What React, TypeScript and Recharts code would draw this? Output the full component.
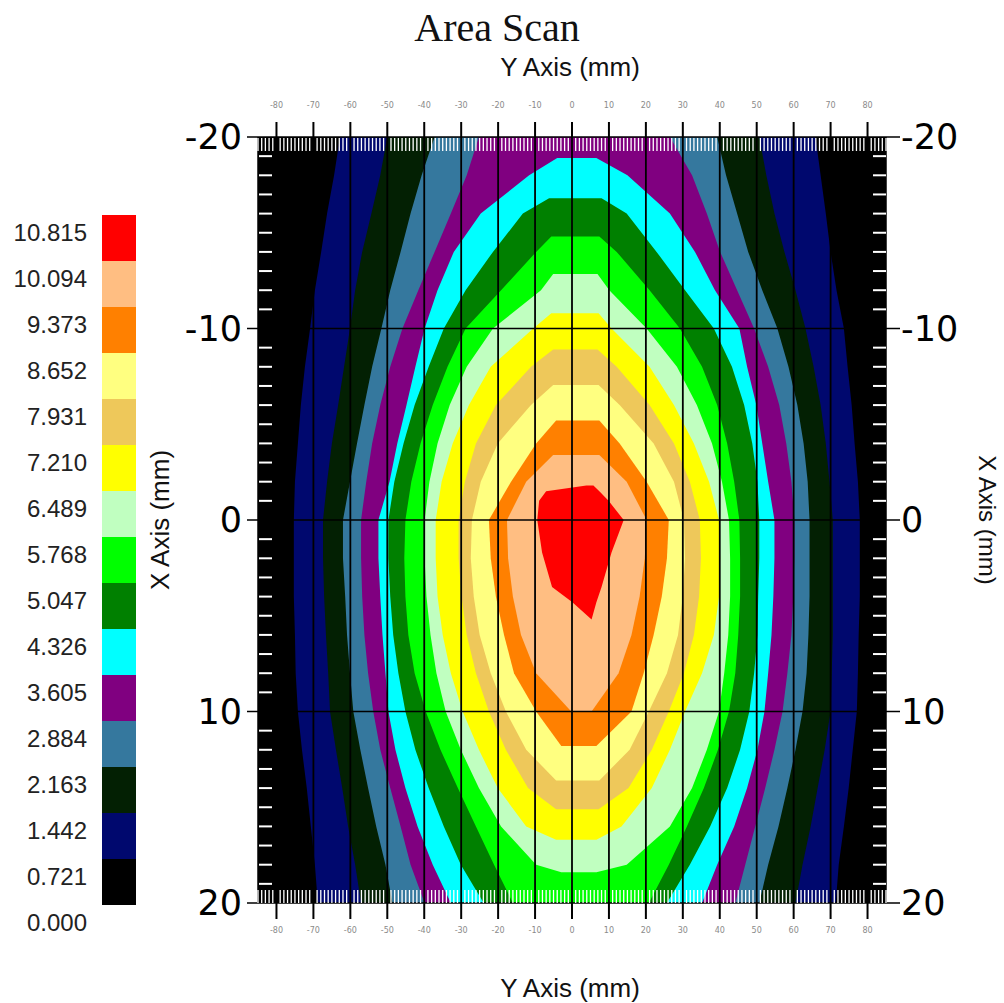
import React from "react";
import { ComposedChart, Area, XAxis, YAxis, BarChart, Bar } from "recharts";

// colour scale of the legend (band lower bounds + top)
const levels = [0.0, 0.721, 1.442, 2.163, 2.884, 3.605, 4.326, 5.047, 5.768, 6.489, 7.21, 7.931, 8.652, 9.373, 10.094, 10.815];
const bandColors = [
  "#000000", "#00086e", "#032003", "#35789e", "#800080", "#00ffff", "#008000", "#00ff00",
  "#c0ffc0", "#ffff00", "#eec85a", "#ffff80", "#ff8000", "#ffbe82", "#ff0000",
];

// axis ticks (mm)
const yMajor = [-80, -70, -60, -50, -40, -30, -20, -10, 0, 10, 20, 30, 40, 50, 60, 70, 80];
const xMajor = [-20, -10, 0, 10, 20];
const xGrid = [-10, 0, 10];
const yMinor: number[] = [];
for (let v = -85; v <= 85; v++) if (v % 10 !== 0) yMinor.push(v);
const xMinor: number[] = [];
for (let v = -19; v <= 19; v++) if (v % 10 !== 0) xMinor.push(v);

// contour regions: [X mm (row), left Y mm, right Y mm] where value > level
const band00 = [[-20, -85, 85], [20, -85, 85]];
const band01 = [
  [-20, -62.8, 65.9], [-18, -64.4, 67.3], [-16, -66.3, 68.7], [-14, -67.9, 70.0], [-12, -69.6, 71.6],
  [-10, -70.9, 73.6], [-8, -72.3, 74.6], [-6, -73.4, 75.7], [-4, -74.2, 76.5], [-2, -75.0, 77.4],
  [0, -75.3, 77.9], [2, -75.3, 77.9], [4, -75.3, 77.9], [6, -75.0, 77.6], [8, -74.8, 77.4],
  [10, -74.2, 77.1], [12, -73.1, 76.0], [14, -71.8, 74.9], [16, -70.7, 73.6], [18, -69.6, 72.2], [20, -68.8, 71.4],
];
const band02 = [
  [-20, -50.0, 50.7], [-18, -51.9, 52.6], [-16, -54.3, 54.8], [-14, -56.8, 57.5], [-12, -58.7, 60.5],
  [-10, -60.1, 63.2], [-8, -61.7, 65.4], [-6, -63.3, 67.3], [-4, -65.0, 68.7], [-2, -66.3, 69.7],
  [0, -67.4, 70.6], [2, -67.4, 70.6], [4, -67.1, 70.6], [6, -66.6, 70.6], [8, -66.0, 70.3],
  [10, -65.5, 70.0], [12, -63.9, 68.4], [14, -62.2, 66.5], [16, -60.6, 64.6], [18, -58.7, 62.4], [20, -57.1, 60.5],
];
const band03 = [
  [-20, -37.2, 39.3], [-18, -40.7, 41.7], [-16, -43.7, 44.7], [-14, -46.4, 47.7], [-12, -49.2, 51.5],
  [-10, -51.6, 55.6], [-8, -54.1, 58.6], [-6, -56.2, 61.0], [-4, -58.2, 62.7], [-2, -60.1, 63.8],
  [0, -62.0, 64.3], [2, -62.0, 64.3], [4, -61.4, 64.3], [6, -60.9, 64.0], [8, -60.1, 63.5],
  [10, -59.2, 62.4], [12, -57.3, 60.5], [14, -55.2, 58.3], [16, -53.0, 55.9], [18, -50.5, 53.1], [20, -48.6, 50.7],
];
const band04 = [
  [-20, -25.2, 26.5], [-18, -28.5, 32.5], [-16, -32.8, 36.5], [-14, -37.2, 40.1], [-12, -41.6, 44.7],
  [-10, -45.9, 49.3], [-8, -49.2, 53.1], [-6, -51.9, 56.1], [-4, -54.1, 58.0], [-2, -55.7, 59.4],
  [0, -57.1, 60.2], [2, -57.1, 60.2], [4, -56.8, 59.9], [6, -56.2, 59.4], [8, -55.2, 58.3],
  [10, -53.8, 57.0], [12, -51.9, 54.8], [14, -49.2, 52.3], [16, -46.4, 49.6], [18, -43.7, 46.9], [20, -39.9, 44.2],
];
const band05 = [
  [-18.9, -4.0, 6.6], [-18, -11.6, 15.0], [-16, -24.7, 26.5], [-14, -32.0, 33.3], [-12, -36.4, 38.7],
  [-10, -39.9, 45.3], [-8, -42.4, 47.4], [-6, -44.8, 49.9], [-4, -47.3, 51.5], [-2, -49.4, 53.1],
  [0, -52.4, 54.8], [2, -52.4, 54.8], [4, -51.9, 54.5], [6, -51.3, 54.0], [8, -50.5, 53.1],
  [10, -49.7, 52.1], [12, -47.8, 50.2], [14, -45.1, 47.4], [16, -41.8, 43.9], [18, -37.7, 39.3], [20, -32.8, 35.2],
];
const band06 = [
  [-16.8, -6.2, 8.0], [-16, -13.3, 14.8], [-14, -21.4, 22.9], [-12, -28.8, 30.6], [-10, -34.7, 38.4],
  [-8, -38.8, 43.3], [-6, -42.6, 46.6], [-4, -45.6, 48.8], [-2, -48.1, 50.2], [0, -49.7, 50.7],
  [2, -49.7, 50.7], [4, -49.2, 50.4], [6, -48.4, 50.2], [8, -47.0, 49.3], [10, -45.1, 48.0],
  [12, -42.4, 45.5], [14, -38.8, 42.0], [16, -34.7, 37.4], [18, -30.1, 31.9], [20, -23.9, 25.7],
];
const band07 = [
  [-14.8, -5.6, 7.4], [-14, -9.7, 12.1], [-12, -19.2, 21.0], [-10, -28.8, 29.2], [-8, -33.7, 35.2],
  [-6, -37.7, 39.3], [-4, -41.0, 42.0], [-2, -43.5, 43.9], [0, -45.1, 45.3], [2, -45.4, 45.5],
  [4, -45.1, 45.5], [6, -44.3, 45.0], [8, -42.6, 44.2], [10, -39.6, 42.5], [12, -35.6, 39.5],
  [14, -30.9, 35.7], [16, -26.0, 31.1], [18, -21.1, 26.2], [20, -16.0, 20.8],
];
const band08 = [
  [-12.85, -5.1, 6.9], [-12, -8.4, 10.1], [-10, -21.4, 20.2], [-8, -28.5, 28.4], [-6, -33.1, 33.8],
  [-4, -36.4, 37.9], [-2, -38.6, 40.6], [0, -39.9, 42.5], [2, -39.9, 42.8], [4, -39.4, 42.8],
  [6, -38.3, 42.3], [8, -36.7, 41.2], [10, -34.2, 39.8], [12, -30.1, 36.5], [14, -25.2, 32.5],
  [16, -19.2, 26.5], [18, -9.7, 14.8], [18.4, -2.9, 6.6],
];
const band09 = [
  [-10.8, -5.6, 7.2], [-10, -10.5, 10.7], [-8, -22.0, 21.0], [-6, -27.9, 27.6], [-4, -32.3, 33.0],
  [-2, -35.3, 37.1], [0, -36.9, 39.8], [2, -36.9, 40.1], [4, -36.4, 39.8], [6, -35.0, 38.4],
  [8, -32.8, 35.2], [10, -29.6, 30.6], [12, -25.2, 26.5], [14, -20.1, 21.6], [16, -12.4, 13.4], [16.7, -4.3, 6.6],
];
const band10 = [
  [-8.9, -5.1, 6.9], [-8, -11.1, 12.1], [-6, -20.6, 21.0], [-4, -26.0, 27.6], [-2, -29.0, 31.9],
  [0, -30.7, 34.6], [2, -30.7, 34.9], [4, -29.9, 34.4], [6, -28.5, 33.0], [8, -26.0, 30.3],
  [10, -22.5, 26.2], [12, -17.9, 21.6], [14, -11.9, 15.3], [15.1, -4.3, 7.2],
];
const band11 = [
  [-7.05, -5.1, 7.2], [-6, -11.1, 12.9], [-4, -20.1, 22.1], [-2, -24.7, 27.6], [0, -27.1, 30.3],
  [2, -27.4, 30.6], [4, -26.6, 30.0], [6, -25.0, 28.7], [8, -22.0, 25.7], [10, -17.9, 20.8],
  [12, -12.4, 15.6], [13.6, -4.3, 7.4],
];
const band12 = [
  [-5.2, -4.3, 7.4], [-4, -9.7, 12.9], [-2, -16.5, 20.2], [0, -22.5, 26.2], [2, -22.0, 25.7],
  [4, -20.6, 24.3], [6, -18.4, 22.1], [8, -15.7, 19.4], [10, -9.7, 16.1], [11.8, -2.9, 6.6],
];
const band13 = [
  [-3.4, -5.1, 7.4], [-2, -12.4, 14.8], [0, -17.6, 20.2], [2, -17.3, 19.7], [4, -16.0, 18.3],
  [6, -13.8, 16.1], [8, -9.7, 12.6], [10, -0.2, 5.3],
];
const band14 = [
  [-1.8, 3.9, 5.8], [-1.5, -7.0, 7.4], [-1, -8.9, 9.9], [0, -9.4, 14.0], [1.7, -8.1, 10.7],
  [3.5, -5.4, 8.0], [4.3, 0.1, 6.6], [5.2, 5.3, 5.3],
];

const bands = [band00, band01, band02, band03, band04, band05, band06, band07, band08, band09, band10, band11, band12, band13, band14];

const toRows = (band: number[][]) => band.map(([x, l, r]) => ({ x, r: [l, r] }));

const legendRow = [
  bandColors.reduce((acc: any, _c, i) => {
    acc[`b${i}`] = +(levels[i + 1] - levels[i]).toFixed(3);
    return acc;
  }, { name: "scale" }),
];

const sans = "'Liberation Sans', Arial, sans-serif";
const wide = "'DejaVu Sans', Verdana, sans-serif";
const blank = () => "";

function LegendTick(props: any) {
  const { x, y, payload } = props;
  return (
    <text x={x - 1} y={y + 17} dy="0.36em" textAnchor="end" fontSize={24} fontFamily={sans} fill="#222">
      {Number(payload.value).toFixed(3)}
    </text>
  );
}

function Caption({ text, x, y, size, rotate = 0, font = sans }: any) {
  return (
    <div
      style={{
        position: "absolute",
        left: x,
        top: y,
        transform: `translate(-50%, -50%) rotate(${rotate}deg)`,
        whiteSpace: "nowrap",
        fontFamily: font,
        fontSize: size,
        lineHeight: 1,
        color: "#111",
      }}
    >
      {text}
    </div>
  );
}

export default function App() {
  return (
    <div style={{ position: "absolute", left: 0, top: 0, width: 1004, height: 1003, background: "#fff", overflow: "hidden" }}>
      <ComposedChart
        layout="vertical"
        width={1004}
        height={1003}
        margin={{ top: 97, right: 38, bottom: 60, left: 178 }}
        style={{ position: "absolute", left: 0, top: 0 }}
      >
        {bands.map((b, i) => (
          <Area
            key={i}
            data={toRows(b)}
            dataKey="r"
            xAxisId="top"
            yAxisId="left"
            type="linear"
            fill={bandColors[i]}
            fillOpacity={1}
            stroke="none"
            dot={false}
            activeDot={false}
            isAnimationActive={false}
          />
        ))}

        <XAxis
          xAxisId="top"
          orientation="top"
          type="number"
          domain={[-85, 85]}
          allowDataOverflow
          ticks={yMajor}
          interval={0}
          height={40}
          tickSize={15}
          tickMargin={14}
          axisLine={{ stroke: "#000", strokeWidth: 1.5 }}
          tickLine={{ stroke: "#000", strokeWidth: 2 }}
          tick={{ fontSize: 8, fill: "#8a8a8a", fontFamily: wide }}
        />
        <XAxis
          xAxisId="bottom"
          orientation="bottom"
          type="number"
          domain={[-85, 85]}
          allowDataOverflow
          ticks={yMajor}
          interval={0}
          height={40}
          tickSize={16}
          tickMargin={8}
          axisLine={{ stroke: "#000", strokeWidth: 1.5 }}
          tickLine={{ stroke: "#000", strokeWidth: 2 }}
          tick={{ fontSize: 8, fill: "#8a8a8a", fontFamily: wide }}
        />
        <YAxis
          yAxisId="left"
          orientation="left"
          type="number"
          dataKey="x"
          domain={[-20, 20]}
          allowDataOverflow
          ticks={xMajor}
          interval={0}
          width={80}
          tickSize={11}
          tickMargin={5}
          axisLine={{ stroke: "#000", strokeWidth: 1.5 }}
          tickLine={{ stroke: "#000", strokeWidth: 1.5 }}
          tick={{ fontSize: 35, fill: "#000", fontFamily: wide }}
        />
        <YAxis
          yAxisId="right"
          orientation="right"
          type="number"
          dataKey="x"
          domain={[-20, 20]}
          allowDataOverflow
          ticks={xMajor}
          interval={0}
          width={80}
          tickSize={14}
          tickMargin={1}
          axisLine={{ stroke: "#000", strokeWidth: 1.5 }}
          tickLine={{ stroke: "#000", strokeWidth: 1.5 }}
          tick={{ fontSize: 35, fill: "#000", fontFamily: wide }}
        />

        {/* white minor ticks inside the frame */}
        <XAxis xAxisId="minorTop" orientation="top" mirror type="number" domain={[-85, 85]} allowDataOverflow
          ticks={yMinor} interval={0} height={1} tickSize={13} axisLine={false}
          tickLine={{ stroke: "#fff", strokeWidth: 1.3 }} tickFormatter={blank} />
        <XAxis xAxisId="minorBottom" orientation="bottom" mirror type="number" domain={[-85, 85]} allowDataOverflow
          ticks={yMinor} interval={0} height={1} tickSize={13} axisLine={false}
          tickLine={{ stroke: "#fff", strokeWidth: 1.3 }} tickFormatter={blank} />
        <YAxis yAxisId="minorLeft" orientation="left" mirror type="number" dataKey="x" domain={[-20, 20]} allowDataOverflow
          ticks={xMinor} interval={0} width={1} tickSize={13} axisLine={false}
          tickLine={{ stroke: "#fff", strokeWidth: 2 }} tickFormatter={blank} />
        <YAxis yAxisId="minorRight" orientation="right" mirror type="number" dataKey="x" domain={[-20, 20]} allowDataOverflow
          ticks={xMinor} interval={0} width={1} tickSize={13} axisLine={false}
          tickLine={{ stroke: "#fff", strokeWidth: 2 }} tickFormatter={blank} />

        {/* grid lines drawn as long inward ticks so they sit over the bands */}
        <XAxis xAxisId="gridV" orientation="top" mirror type="number" domain={[-85, 85]} allowDataOverflow
          ticks={yMajor} interval={0} height={1} tickSize={766} axisLine={false}
          tickLine={{ stroke: "#000", strokeWidth: 1.8 }} tickFormatter={blank} />
        <YAxis yAxisId="gridH" orientation="left" mirror type="number" dataKey="x" domain={[-20, 20]} allowDataOverflow
          ticks={xGrid} interval={0} width={1} tickSize={628} axisLine={false}
          tickLine={{ stroke: "#000", strokeWidth: 1.6 }} tickFormatter={blank} />
      </ComposedChart>

      <BarChart
        width={200}
        height={1003}
        data={legendRow}
        margin={{ top: 215, right: 64, bottom: 98, left: 12 }}
        barCategoryGap={0}
        style={{ position: "absolute", left: 0, top: 0 }}
      >
        <XAxis dataKey="name" hide />
        <YAxis
          type="number"
          domain={[0, 10.815]}
          allowDataOverflow
          ticks={levels}
          interval={0}
          width={90}
          axisLine={false}
          tickLine={false}
          tickMargin={8}
          tick={(p: any) => <LegendTick {...p} />}
        />
        {bandColors.map((c, i) => (
          <Bar key={i} dataKey={`b${i}`} stackId="scale" fill={c} isAnimationActive={false} />
        ))}
      </BarChart>

      <Caption text="Area Scan" x={497} y={28} size={40} font="'Liberation Serif', 'Times New Roman', serif" />
      <Caption text="Y Axis (mm)" x={570} y={67} size={26} />
      <Caption text="Y Axis (mm)" x={570} y={988} size={26} />
      <Caption text="X Axis (mm)" x={160} y={520} size={26} rotate={-90} />
      <Caption text="X Axis (mm)" x={987} y={520} size={24} rotate={90} />
    </div>
  );
}
